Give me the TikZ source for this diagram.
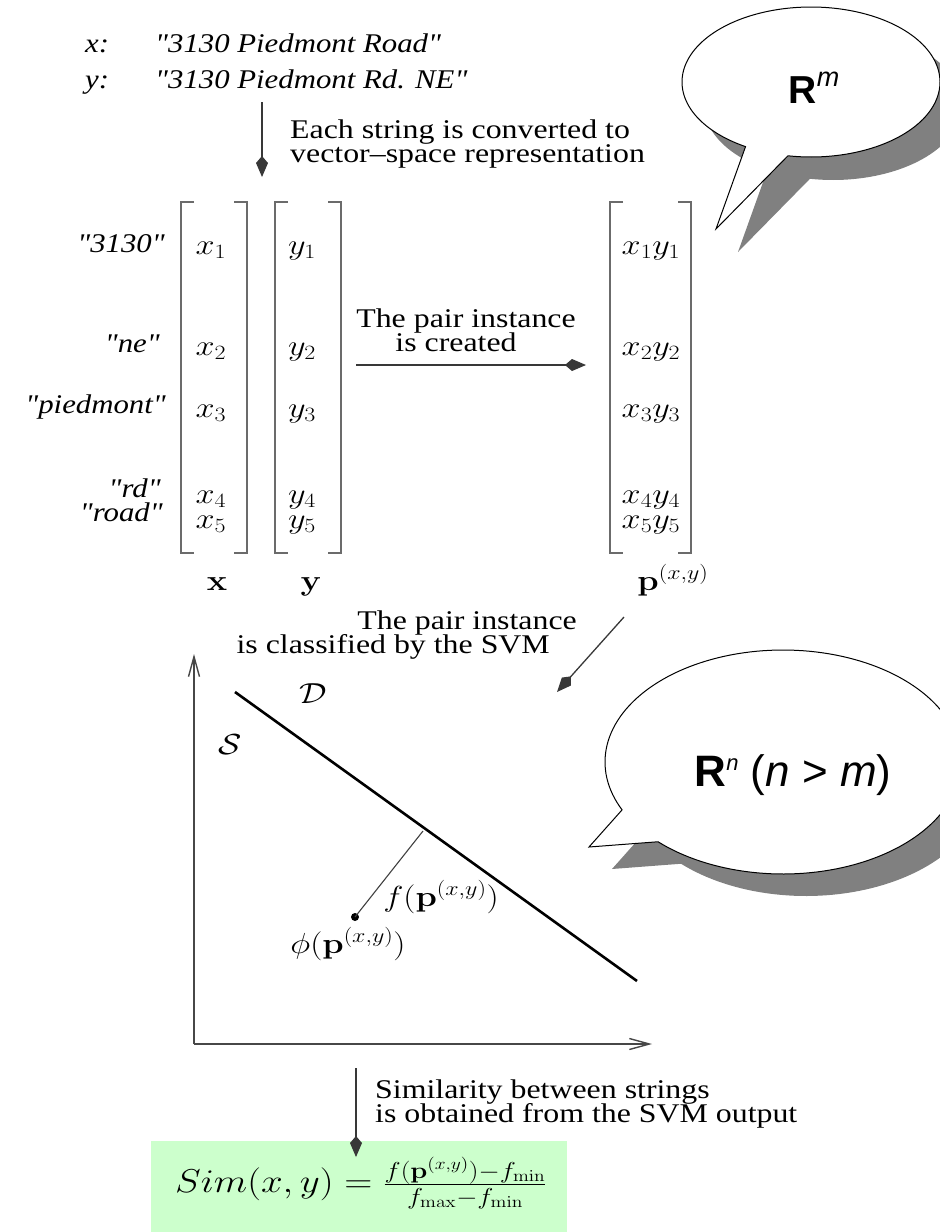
\RequirePackage{fix-cm}
\documentclass[tikz,border=0pt]{standalone}
\usepackage[no-math]{fontspec}
\setmainfont{Liberation Serif}[FakeStretch=1.18]
\newfontfamily\serifnq{Liberation Serif}[FakeStretch=1.14]
\newfontfamily\bsans{Liberation Sans}
\usepackage{graphicx}
\usetikzlibrary{arrows.meta}
\newcommand\hs[1]{\scalebox{1.18}[1]{#1}}
\newcommand\txtfont{\fontsize{27}{23}\selectfont}
\newcommand\mthfont{\fontsize{29}{29}\selectfont}
\definecolor{simgreen}{RGB}{204,255,204}
\tikzset{
  lbl/.style={inner sep=0pt, font=\txtfont},
  ilbl/.style={inner sep=0pt, font=\txtfont\serifnq\itshape},
  mth/.style={inner sep=0pt, font=\mthfont},
  brk/.style={draw=black!58, line width=1.6pt},
  conn/.style={draw=black!78, line width=1.3pt, -{Kite[length=21pt,width=12pt,inset=7pt]}},
  axisline/.style={draw=black!72, line width=1.4pt, -{Straight Barb[length=20pt,width=11pt,line width=1.4pt]}},
  bubble/.style={draw=black, line width=1pt, fill=white},
  bshadow/.style={fill=black!50},
}
\begin{document}
\begin{tikzpicture}[x=1pt,y=-1pt]
\useasboundingbox (0,0) rectangle (940,1232);
\clip (0,0) rectangle (940,1232);

% ---- speech bubbles ----
\fill[bshadow, shift={(22,23)}] (716,229) -- plot[domain=120.5:460.3, samples=160] ({811+129*cos(\x)},{82+75*sin(\x)}) -- cycle;
\filldraw[bubble] (716,229) -- plot[domain=120.5:460.3, samples=160] ({811+129*cos(\x)},{82+75*sin(\x)}) -- cycle;
\node[inner sep=0pt, anchor=base] (rm) at (814,103)
  {\fontsize{39}{39}\selectfont\bsans\bfseries R\raisebox{17pt}{\fontsize{27}{27}\selectfont\mdseries\itshape m}};

\fill[bshadow, shift={(23,22)}] (589,847) -- plot[domain=154.7:494.6, samples=160] ({783+178*cos(\x)},{762+112*sin(\x)}) -- cycle;
\filldraw[bubble] (589,847) -- plot[domain=154.7:494.6, samples=160] ({783+178*cos(\x)},{762+112*sin(\x)}) -- cycle;
\node[inner sep=0pt, anchor=base] (rn) at (793,786)
  {\fontsize{44}{44}\selectfont\bsans{\bfseries R}\raisebox{16pt}{\fontsize{22}{22}\selectfont\itshape n} (\textit{n} > \textit{m})};

% ---- input strings ----
\node[ilbl, anchor=base west] (xl) at (85,52) {x:};
\node[ilbl, anchor=base west] (xs) at (155,52) {"3130 Piedmont Road"};
\node[ilbl, anchor=base west] (yl) at (85,88) {y:};
\node[ilbl, anchor=base west] (ys) at (155,88) {"3130 Piedmont Rd. NE"};

\coordinate (a1s) at (262,102);
\coordinate (a1e) at (262,177);
\draw[conn] (a1s) -- (a1e);
\node[lbl, anchor=base west] (t1a) at (290,138) {Each string is converted to};
\node[lbl, anchor=base west] (t1b) at (290,162) {vector--space representation};

% ---- brackets ----
\draw[brk] (194,202) -- (181,202) -- (181,553) -- (194,553);
\draw[brk] (234,202) -- (247,202) -- (247,553) -- (234,553);
\draw[brk] (288,202) -- (275,202) -- (275,553) -- (288,553);
\draw[brk] (328,202) -- (341,202) -- (341,553) -- (328,553);
\draw[brk] (623,202) -- (610,202) -- (610,553) -- (623,553);
\draw[brk] (678,202) -- (691,202) -- (691,553) -- (678,553);

% ---- row labels ----
\node[ilbl, anchor=base east] (r1) at (165,252) {"3130"};
\node[ilbl, anchor=base east] (r2) at (160,352) {"ne"};
\node[ilbl, anchor=base east] (r3) at (166,413) {"piedmont"};
\node[ilbl, anchor=base east] (r4) at (161,497) {"rd"};
\node[ilbl, anchor=base east] (r5) at (163,521) {"road"};

% ---- entries ----
\node[mth, anchor=base] (x1) at (211,254) {\hs{$x_1$}};
\node[mth, anchor=base] (x2) at (211,355) {\hs{$x_2$}};
\node[mth, anchor=base] (x3) at (211,417) {\hs{$x_3$}};
\node[mth, anchor=base] (x4) at (211,503) {\hs{$x_4$}};
\node[mth, anchor=base] (x5) at (211,528) {\hs{$x_5$}};
\node[mth, anchor=base] (y1) at (302,254) {\hs{$y_1$}};
\node[mth, anchor=base] (y2) at (302,355) {\hs{$y_2$}};
\node[mth, anchor=base] (y3) at (302,417) {\hs{$y_3$}};
\node[mth, anchor=base] (y4) at (302,503) {\hs{$y_4$}};
\node[mth, anchor=base] (y5) at (302,528) {\hs{$y_5$}};
\node[mth, anchor=base] (p1) at (651,254) {\hs{$x_1y_1$}};
\node[mth, anchor=base] (p2) at (651,355) {\hs{$x_2y_2$}};
\node[mth, anchor=base] (p3) at (651,417) {\hs{$x_3y_3$}};
\node[mth, anchor=base] (p4) at (651,503) {\hs{$x_4y_4$}};
\node[mth, anchor=base] (p5) at (651,528) {\hs{$x_5y_5$}};

\node[mth, anchor=base] (bx) at (217,590) {\hs{$\mathbf{x}$}};
\node[mth, anchor=base] (by) at (311,590) {\hs{$\mathbf{y}$}};
\node[mth, anchor=base] (bp) at (673,590) {\hs{$\mathbf{p}^{(x,y)}$}};

% ---- pair creation ----
\node[lbl, anchor=base] (t2a) at (466,327) {The pair instance};
\node[lbl, anchor=base] (t2b) at (456,351) {is created};
\coordinate (a2s) at (356,365);
\coordinate (a2e) at (586,365);
\draw[conn] (a2s) -- (a2e);

% ---- classification ----
\node[lbl, anchor=base east] (t3a) at (577,629) {The pair instance};
\node[lbl, anchor=base east] (t3b) at (550,653) {is classified by the SVM};
\coordinate (a3s) at (624,617);
\coordinate (a3e) at (557,692);
\draw[conn] (a3s) -- (a3e);

% ---- plot ----
\coordinate (o) at (194,1044);
\coordinate (ytip) at (194,654);
\coordinate (xtip) at (652,1044);
\draw[axisline] (o) -- (ytip);
\draw[axisline] (o) -- (xtip);
\coordinate (s1) at (235,692);
\coordinate (s2) at (637,981);
\draw[line width=2.6pt] (s1) -- (s2);
\node[mth] (dl) at (313,694) {\hs{$\mathcal{D}$}};
\node[mth] (sl) at (230,745) {\hs{$\mathcal{S}$}};
\node[circle, fill=black, inner sep=0pt, minimum size=8pt] (dot) at (355,917) {};
\coordinate (foot) at (423,831);
\draw[draw=black!75, line width=1.1pt] (dot.center) -- (foot);
\node[mth] (fl) at (441,897) {\hs{$f(\mathbf{p}^{(x,y)})$}};
\node[mth] (phl) at (348,944) {\hs{$\phi(\mathbf{p}^{(x,y)})$}};

% ---- similarity ----
\node[fill=simgreen, inner sep=0pt, minimum width=416pt, minimum height=92pt, anchor=north west] (simbox) at (151,1141) {};
\node[inner sep=0pt, font=\fontsize{33}{33}\selectfont] (simf) at (361,1183) {\hs{$Sim(x,y) = \frac{f(\mathbf{p}^{(x,y)})-f_{\min}}{f_{\max}-f_{\min}}$}};
\coordinate (a4s) at (356,1068);
\coordinate (a4e) at (356,1157);
\draw[conn] (a4s) -- (a4e);
\node[lbl, anchor=base west] (t4a) at (375,1098) {Similarity between strings};
\node[lbl, anchor=base west] (t4b) at (375,1122) {is obtained from the SVM output};
\end{tikzpicture}
\end{document}
